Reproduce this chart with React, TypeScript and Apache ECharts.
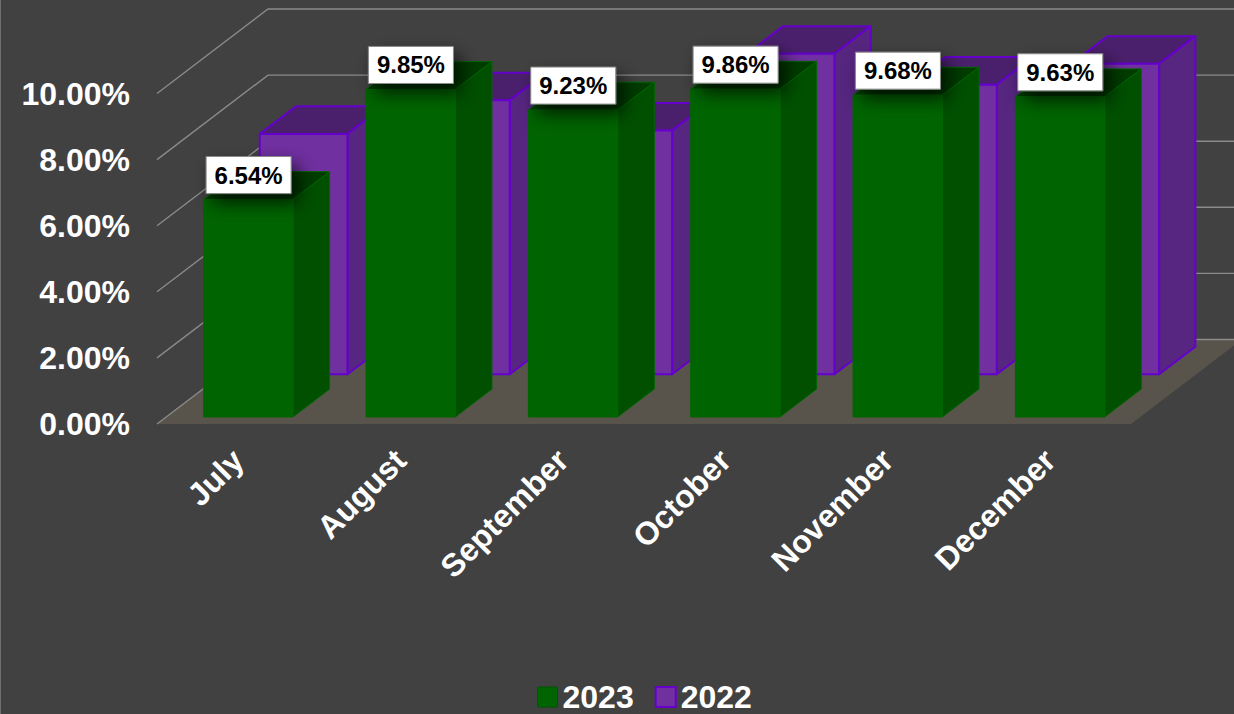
import React, { useEffect, useRef } from "react";
import * as echarts from "echarts";

const categories = ["July", "August", "September", "October", "November", "December"];
const values2023 = [6.54, 9.85, 9.23, 9.86, 9.68, 9.63];
const values2022 = [7.23, 8.24, 7.33, 9.64, 8.71, 9.34];
const wallTicks = [0, 2, 4, 6, 8, 10];

const FONT = '"Liberation Sans", Arial, sans-serif';
const DEPTH_X = 111;
const DEPTH_Y = 84.5;

type Palette = { front: string; side: string; top: string; line: string };
const GREEN: Palette = { front: "#006400", side: "#005000", top: "#003c00", line: "#006600" };
const PURPLE: Palette = { front: "#7030a0", side: "#562680", top: "#4a206c", line: "#6600cc" };

function barRenderer(p: Palette, depthStart: number, depthEnd: number, widthShare: number, lineWidth: number) {
  return (params: any, api: any) => {
    const cs = params.coordSys;
    const band = cs.width / categories.length;
    const i = api.value(0);
    const left = cs.x + i * band + band * 0.231;
    const w = band * widthShare;
    const base = api.coord([i, 0])[1];
    const top = api.coord([i, api.value(1)])[1];
    const fx = left + DEPTH_X * depthStart;
    const by = base - DEPTH_Y * depthStart;
    const ty = top - DEPTH_Y * depthStart;
    const dx = DEPTH_X * (depthEnd - depthStart);
    const dy = DEPTH_Y * (depthEnd - depthStart);
    const poly = (pts: number[][], fill: string) => ({
      type: "polygon",
      shape: { points: pts },
      style: { fill, stroke: p.line, lineWidth, lineJoin: "round" },
    });
    return {
      type: "group",
      children: [
        poly([[fx, ty], [fx + dx, ty - dy], [fx + w + dx, ty - dy], [fx + w, ty]], p.top),
        poly([[fx + w, ty], [fx + w + dx, ty - dy], [fx + w + dx, by - dy], [fx + w, by]], p.side),
        poly([[fx, ty], [fx + w, ty], [fx + w, by], [fx, by]], p.front),
      ],
    };
  };
}

function labelRenderer(params: any, api: any) {
  const cs = params.coordSys;
  const band = cs.width / categories.length;
  const i = api.value(0);
  const v = api.value(1);
  const cx = cs.x + i * band + band * 0.5075 + DEPTH_X * 0.083;
  const cy = api.coord([i, v])[1] - DEPTH_Y * 0.083 - 24.5;
  return {
    type: "group",
    children: [
      {
        type: "rect",
        shape: { x: cx - 42.5, y: cy - 18.5, width: 85, height: 37 },
        style: {
          fill: "#ffffff",
          stroke: "#8a8a8a",
          lineWidth: 1,
          shadowBlur: 18,
          shadowOffsetX: 7,
          shadowOffsetY: 9,
          shadowColor: "rgba(0,0,0,0.7)",
        },
      },
      {
        type: "text",
        x: cx,
        y: cy,
        style: {
          text: v.toFixed(2) + "%",
          fill: "#000000",
          fontSize: 24,
          fontWeight: "bold",
          fontFamily: FONT,
          align: "center",
          verticalAlign: "middle",
        },
      },
    ],
  };
}

function floorRenderer(params: any, api: any) {
  const cs = params.coordSys;
  const y = api.coord([0, 0])[1];
  return {
    type: "polygon",
    shape: {
      points: [
        [cs.x, y],
        [cs.x + cs.width, y],
        [cs.x + cs.width + DEPTH_X, y - DEPTH_Y],
        [cs.x + DEPTH_X, y - DEPTH_Y],
      ],
    },
    style: { fill: "#58544c" },
  };
}

function wallRenderer(params: any, api: any) {
  const cs = params.coordSys;
  const y = api.coord([0, api.value(0)])[1];
  return {
    type: "polyline",
    shape: {
      points: [
        [cs.x, y],
        [cs.x + DEPTH_X, y - DEPTH_Y],
        [cs.x + cs.width + DEPTH_X, y - DEPTH_Y],
      ],
    },
    style: { fill: "none", stroke: "#8a8a8a", lineWidth: 1.4 },
  };
}

export default function App() {
  const ref = useRef<HTMLDivElement>(null);
  useEffect(() => {
    document.body.style.margin = "0";
    document.body.style.background = "#414141";
    const chart = echarts.init(ref.current!, null, { renderer: "svg" });
    const axisText = { color: "#ffffff", fontSize: 32, fontWeight: "bold" as const, fontFamily: FONT };
    chart.setOption({
      animation: false,
      backgroundColor: "#414141",
      grid: { left: 157, width: 974, top: 93.5, height: 330.5, containLabel: false },
      xAxis: {
        type: "category",
        data: categories,
        axisLine: { show: false },
        axisTick: { show: false },
        axisLabel: { ...axisText, rotate: 45, interval: 0, margin: 31 },
      },
      yAxis: [
        {
          type: "value",
          min: 0,
          max: 10,
          interval: 2,
          axisLine: { show: false },
          axisTick: { show: false },
          splitLine: { show: false },
          axisLabel: { ...axisText, margin: 27, formatter: (v: number) => v.toFixed(2) + "%" },
        },
        { type: "value", min: 0, max: 9.94, show: false, splitLine: { show: false } },
      ],
      legend: {
        left: 532,
        top: 681,
        padding: [0, 5, 0, 5],
        itemWidth: 20,
        itemHeight: 20,
        itemGap: 21,
        icon: "rect",
        textStyle: { ...axisText },
        data: [
          { name: "2023", itemStyle: { color: GREEN.front, borderColor: "#005500", borderWidth: 1 } },
          { name: "2022", itemStyle: { color: PURPLE.front, borderColor: PURPLE.line, borderWidth: 2 } },
        ],
      },
      series: [
        { type: "custom", name: "floor", z: 1, silent: true, data: [[0]], renderItem: floorRenderer },
        { type: "custom", name: "walls", z: 2, silent: true, data: wallTicks.map((t) => [t]), renderItem: wallRenderer },
        {
          type: "custom",
          name: "2022",
          z: 3,
          yAxisIndex: 1,
          silent: true,
          itemStyle: { color: PURPLE.front },
          data: values2022.map((v, i) => [i, v]),
          renderItem: barRenderer(PURPLE, 0.588, 0.915, 0.54, 2),
        },
        {
          type: "custom",
          name: "2023",
          z: 4,
          yAxisIndex: 1,
          silent: true,
          itemStyle: { color: GREEN.front },
          data: values2023.map((v, i) => [i, v]),
          renderItem: barRenderer(GREEN, 0.083, 0.413, 0.55, 1),
        },
        {
          type: "custom",
          name: "labels",
          z: 5,
          yAxisIndex: 1,
          silent: true,
          data: values2023.map((v, i) => [i, v]),
          renderItem: labelRenderer,
        },
      ],
    });
    return () => chart.dispose();
  }, []);
  return (
    <div style={{ position: "relative", width: 1234, height: 714, overflow: "hidden" }}>
      <div ref={ref} style={{ width: 1234, height: 714 }} />
      <div style={{ position: "absolute", left: 0, top: 0, width: 1, height: 714, background: "#6e6e6e" }} />
    </div>
  );
}
